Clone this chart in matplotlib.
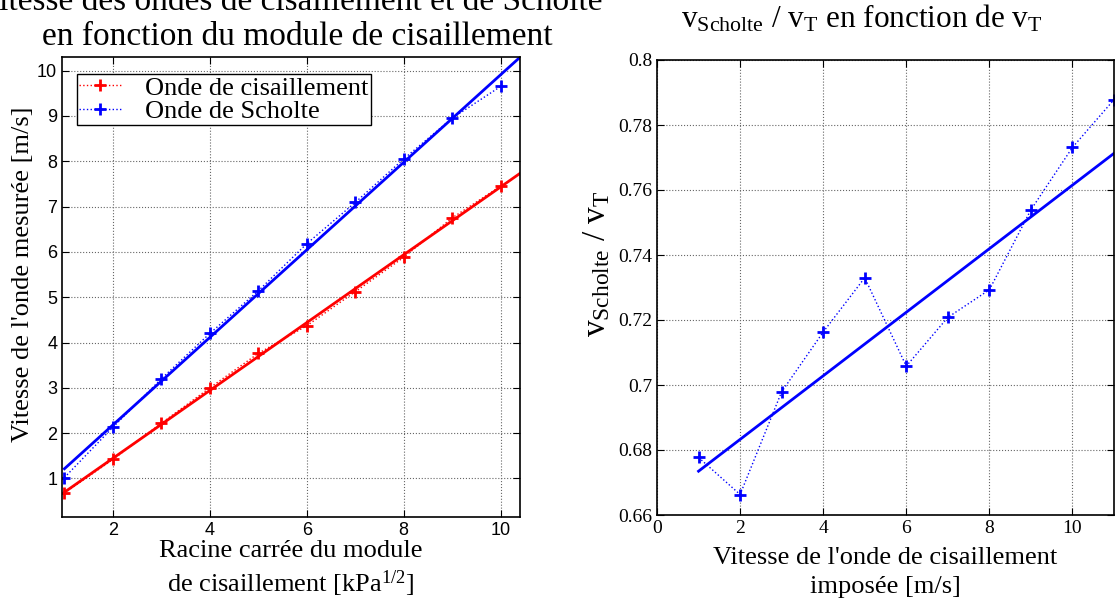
import matplotlib
matplotlib.use("Agg")
import matplotlib.pyplot as plt
import numpy as np

# racine carree du module de cisaillement [kPa^1/2]
sqrt_mu = [1, 2, 3, 4, 5, 6, 7, 8, 9, 10]
# vitesses mesurees [m/s]
v_cisaillement = [0.68, 1.42, 2.22, 3.00, 3.76, 4.37, 5.12, 5.88, 6.75, 7.45]
v_scholte = [1.02, 2.13, 3.20, 4.20, 5.14, 6.18, 7.09, 8.05, 8.95, 9.65]

# rapport vScholte / vT en fonction de la vitesse imposee
v_impose = [1, 2, 3, 4, 5, 6, 7, 8, 9, 10, 11]
ratio = [0.6777, 0.6663, 0.6979, 0.7163, 0.7330, 0.7058, 0.7208, 0.7293,
         0.7539, 0.7731, 0.7878]

# droites d'ajustement (pente, ordonnee a l'origine)
fit_cisaillement = [0.7485, -0.052]
fit_scholte = [0.9659, 0.249]
fit_ratio = [0.00978, 0.6637]

serif = "Liberation Serif"
plt.rcParams["mathtext.fontset"] = "custom"
plt.rcParams["mathtext.rm"] = serif
plt.rcParams["mathtext.it"] = serif + ":italic"

W, H = 1117, 610
fig = plt.figure(figsize=(W / 100, H / 100), dpi=100)


def box(l, t, r, b):
    return [l / W, 1 - b / H, (r - l) / W, (b - t) / H]


def matlab_style(ax):
    ax.grid(True, linestyle=":", color="0.4", linewidth=0.8)
    ax.tick_params(direction="in", top=True, right=True, length=5, width=0.8)
    for s in ax.spines.values():
        s.set_linewidth(1.2)


# ---- gauche : vitesses mesurees ----
ax1 = fig.add_axes(box(62, 57, 520, 517))
x = np.array(sqrt_mu)
ax1.plot(x, v_cisaillement, ":+", color="red", lw=1.0, ms=9, mew=2,
         label="Onde de cisaillement")
ax1.plot(x, v_scholte, ":+", color="blue", lw=1.0, ms=9, mew=2,
         label="Onde de Scholte")
xf = np.linspace(1, 10.6, 50)
ax1.plot(xf, np.polyval(fit_cisaillement, xf), "-", color="red", lw=2)
ax1.plot(xf, np.polyval(fit_scholte, xf), "-", color="blue", lw=2)
ax1.set_xlim(0.95, 10.4)
ax1.set_ylim(0.15, 10.3)
ax1.set_xticks([2, 4, 6, 8, 10])
ax1.set_yticks(range(1, 11))
matlab_style(ax1)
for lab in ax1.get_xticklabels() + ax1.get_yticklabels():
    lab.set_fontfamily("Liberation Sans")
    lab.set_fontsize(13)
leg = ax1.legend(loc="upper left", bbox_to_anchor=(77 / W, 1 - 74 / H),
                 bbox_transform=fig.transFigure, fancybox=False,
                 edgecolor="black", framealpha=1, prop={"family": serif, "size": 19},
                 handlelength=1.6, borderpad=0.08, labelspacing=0.0,
                 handletextpad=0.9, borderaxespad=0)
leg.get_frame().set_linewidth(1.0)
ax1.set_xlabel("Racine carrée du module\nde cisaillement [kPa$^{1/2}$]",
               family=serif, fontsize=19, linespacing=1.25, labelpad=1)
ax1.set_ylabel("Vitesse de l'onde mesurée [m/s]", family=serif, fontsize=19)
ax1.yaxis.set_label_coords(-0.062, 0.527)
fig.text(290 / W, 1 - 10 / H, "Vitesse des ondes de cisaillement et de Scholte",
         family=serif, fontsize=24, ha="center", va="baseline")
fig.text(297 / W, 1 - 45 / H, "en fonction du module de cisaillement",
         family=serif, fontsize=24, ha="center", va="baseline")

# ---- droite : rapport ----
ax2 = fig.add_axes(box(657, 60, 1114, 515))
ax2.plot(v_impose, ratio, ":+", color="blue", lw=1.0, ms=9, mew=2)
xr = np.array([v_impose[0], v_impose[-1]])
ax2.plot(xr, np.polyval(fit_ratio, xr), "-", color="blue", lw=2)
ax2.set_xlim(0, 11)
ax2.set_ylim(0.66, 0.8)
ax2.set_xticks([0, 2, 4, 6, 8, 10])
ax2.set_yticks(np.arange(0.66, 0.801, 0.02))
ax2.set_yticklabels(["0.66", "0.68", "0.7", "0.72", "0.74", "0.76", "0.78", "0.8"])
matlab_style(ax2)
for lab in ax2.get_xticklabels() + ax2.get_yticklabels():
    lab.set_fontfamily(serif)
    lab.set_fontsize(14)
ax2.set_xlabel("Vitesse de l'onde de cisaillement\nimposée [m/s]",
               family=serif, fontsize=19, linespacing=1.45, labelpad=7)
ax2.set_ylabel("v$_{\\mathrm{Scholte}}$ / v$_\\mathrm{T}$", family=serif, fontsize=24)
ax2.yaxis.set_label_coords(-0.098, 0.552)
fig.text(862 / W, 1 - 28 / H,
         "v$_{\\mathrm{Scholte}}$ / v$_\\mathrm{T}$ en fonction de v$_\\mathrm{T}$",
         family=serif, fontsize=22.5, ha="center", va="baseline")

fig.savefig("out.png", dpi=100)
